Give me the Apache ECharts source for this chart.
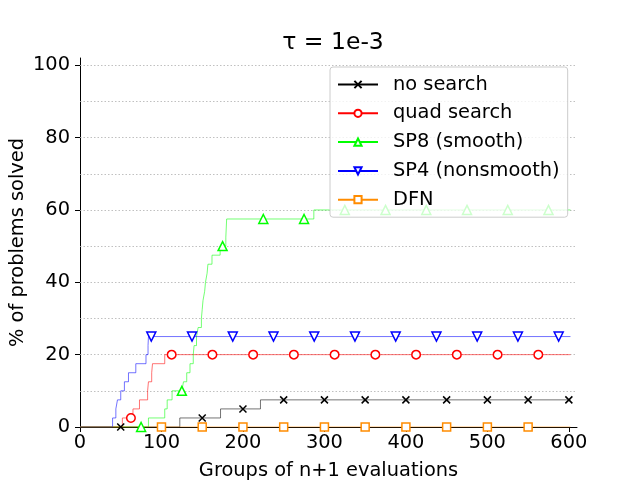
<!DOCTYPE html>
<html>
<head>
<meta charset="utf-8">
<script src="https://cdn.jsdelivr.net/npm/echarts@6/dist/echarts.min.js"></script>
<style>
  html, body { margin: 0; padding: 0; background: #fff; }
  #chart { width: 640px; height: 480px; }
</style>
</head>
<body>
<div id="chart"></div>
<script>
// tick labels and grid levels
const xTicks = [0, 100, 200, 300, 400, 500, 600];
const yTicks = [0, 20, 40, 60, 80, 100];
const yGrid = [10, 20, 30, 40, 50, 60, 70, 80, 90, 100];
const lastX = 602;

// step curves: [x where the level starts, % solved]
const noSearchSteps = [[0, 0], [122.5, 2.5], [172.5, 5], [221.5, 7.5]];
const quadSteps = [[0, 0], [52, 2.5], [65, 5], [73, 7.5], [83, 10], [84, 12.5], [88, 15], [89, 17.5], [104, 20]];
const sp8Steps = [[0, 0], [84, 2.5], [104, 5], [107, 7.5], [113, 10], [127, 12.5], [131, 15], [135, 17.5],
  [139, 20], [140, 22.5], [143, 25], [145, 27.5], [149, 30], [150, 32.5], [151, 35], [153, 37.5],
  [154, 40], [156, 42.5], [157, 45], [162, 47.5], [172, 50], [179, 52.5], [180, 57.5], [287, 60]];
const sp4Steps = [[0, 0], [40, 2.5], [44, 5], [46, 7.5], [50, 10], [54.5, 12.5], [59.5, 15], [68.5, 17.5],
  [81, 20], [83.5, 22.5], [84, 25]];
const dfnSteps = [[0, 0]];

// where the markers sit along each curve
const noSearchMarks = [50, 100, 150, 200, 250, 300, 350, 400, 450, 500, 550, 600];
const quadMarks = [62.5, 112.5, 162.5, 212.5, 262.5, 312.5, 362.5, 412.5, 462.5, 512.5, 562.5];
const sp8Marks = [75, 125, 175, 225, 275, 325, 375, 425, 475, 525, 575];
const sp4Marks = [87.5, 137.5, 187.5, 237.5, 287.5, 337.5, 387.5, 437.5, 487.5, 537.5, 587.5];
const dfnMarks = [100, 150, 200, 250, 300, 350, 400, 450, 500, 550];

function levelAt(steps, x) {
  let y = 0;
  steps.forEach(function (s) { if (s[0] <= x) y = s[1]; });
  return y;
}

function buildData(steps, marks) {
  const pts = steps.map(function (s) { return {value: s, symbol: 'none'}; });
  marks.forEach(function (mx) { pts.push({value: [mx, levelAt(steps, mx)]}); });
  pts.push({value: [lastX, steps[steps.length - 1][1]], symbol: 'none'});
  pts.sort(function (a, b) { return a.value[0] - b.value[0]; });
  return pts;
}

const FONT = 'DejaVu Sans';
const FS = 19.4;
const crossPath = 'path://M0,0L10,10M10,0L0,10';

function stepSeries(name, color, steps, marks, symbol, size, extra) {
  return Object.assign({
    name: name,
    type: 'line',
    step: 'end',
    showAllSymbol: true,
    symbol: symbol,
    symbolSize: size,
    lineStyle: {color: color, width: 1, opacity: 0.55},
    itemStyle: {color: '#fff', borderColor: color, borderWidth: 1.5},
    emphasis: {disabled: true},
    animation: false,
    data: buildData(steps, marks)
  }, extra || {});
}

const chart = echarts.init(document.getElementById('chart'));
chart.setOption({
  animation: false,
  textStyle: {fontFamily: FONT},
  title: {
    text: 'τ = 1e-3',
    left: 328,
    top: 26,
    textAlign: 'center',
    textStyle: {fontFamily: FONT, fontSize: 23.5, fontWeight: 'normal', color: '#000'}
  },
  grid: {left: 80, right: 63, top: 58, bottom: 53, containLabel: false, outerBoundsMode: 'none'},
  legend: {
    orient: 'vertical',
    left: 330,
    top: 67,
    padding: [8, 8, 8, 7],
    itemGap: 9.8,
    itemWidth: 40,
    itemHeight: 9,
    backgroundColor: 'rgba(255,255,255,0.8)',
    borderColor: '#ccc',
    borderWidth: 1,
    borderRadius: 3,
    lineStyle: {opacity: 1},
    textStyle: {fontFamily: FONT, fontSize: FS, color: '#000', padding: [0, 0, 0, 10]},
    data: ['no search', 'quad search', 'SP8 (smooth)', 'SP4 (nonsmooth)', 'DFN']
  },
  xAxis: {
    type: 'value',
    min: 0,
    max: 610,
    interval: 100,
    name: 'Groups of n+1 evaluations',
    nameLocation: 'middle',
    nameGap: 34,
    nameMoveOverlap: false,
    nameTextStyle: {fontFamily: FONT, fontSize: FS, color: '#000'},
    axisLine: {lineStyle: {color: '#000', width: 1}},
    axisTick: {show: true, length: 5, lineStyle: {color: '#000'}, customValues: xTicks},
    axisLabel: {fontFamily: FONT, fontSize: FS, color: '#000', margin: 6, customValues: xTicks},
    splitLine: {show: false}
  },
  yAxis: {
    type: 'value',
    min: 0,
    max: 102,
    interval: 20,
    name: '% of problems solved',
    nameLocation: 'middle',
    nameGap: 53,
    nameMoveOverlap: false,
    nameTextStyle: {fontFamily: FONT, fontSize: FS, color: '#000'},
    axisLine: {show: true, lineStyle: {color: '#000', width: 1}},
    axisTick: {show: true, length: 5, lineStyle: {color: '#000'}, customValues: yTicks},
    axisLabel: {fontFamily: FONT, fontSize: FS, color: '#000', margin: 10, customValues: yTicks},
    splitLine: {show: false}
  },
  series: [
    stepSeries('no search', '#000', noSearchSteps, noSearchMarks, crossPath, 7,
      {itemStyle: {color: '#000', borderColor: '#000', borderWidth: 1.5},
       markLine: {
         silent: true,
         symbol: 'none',
         label: {show: false},
         z: 1,
         lineStyle: {color: '#b0b0b0', type: [1.5, 2], width: 0.8},
         data: yGrid.map(function (v) { return {yAxis: v}; })
       }}),
    stepSeries('quad search', '#ff0000', quadSteps, quadMarks, 'circle', 8.5),
    stepSeries('SP8 (smooth)', '#00ff00', sp8Steps, sp8Marks, 'triangle', 9),
    stepSeries('SP4 (nonsmooth)', '#0000ff', sp4Steps, sp4Marks, 'triangle', 9, {symbolRotate: 180}),
    stepSeries('DFN', '#ff8c00', dfnSteps, dfnMarks, 'rect', 8)
  ]
});
</script>
</body>
</html>
